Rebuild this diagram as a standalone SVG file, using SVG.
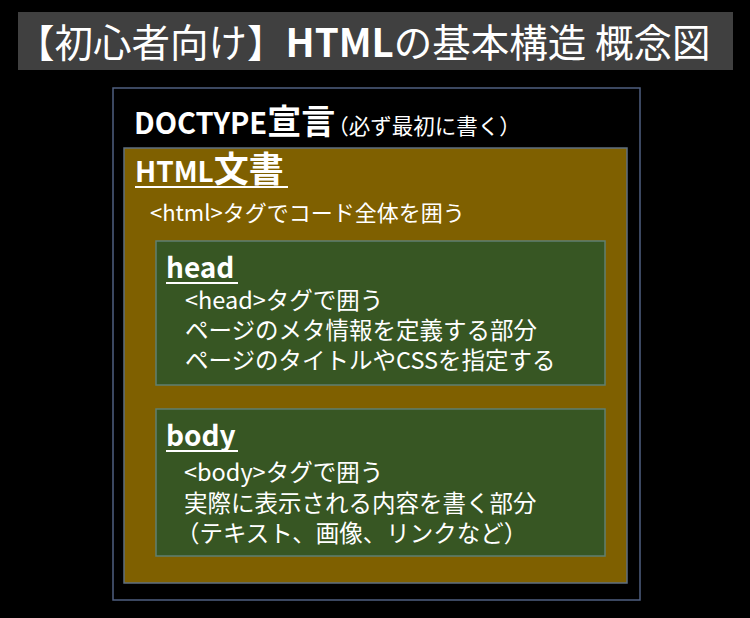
<svg xmlns="http://www.w3.org/2000/svg" width="750" height="618" viewBox="0 0 750 618">
<style>
text{font-family:"Noto Sans CJK JP","Liberation Sans",sans-serif;fill:#ffffff}
.t{font-size:38.5px}
.h{font-size:28px;font-weight:bold}
.d{font-size:23.5px}
.ul{stroke:#ffffff;stroke-width:2.2}
.grn{fill:#375623;stroke:#5f7f72;stroke-width:1.5}
</style>
<rect x="0" y="0" width="750" height="618" fill="#000000"/>
<g id="title">
<rect x="18" y="12" width="715" height="58" fill="#404040"/>
<text class="t" x="16" y="57">【初心者向け】<tspan font-weight="bold">HTML</tspan>の基本構造 概念図</text>
</g>
<g id="doctype">
<rect x="113" y="88" width="527" height="512" fill="#000000" stroke="#4f5f80" stroke-width="1.5"/>
<text x="134" y="134" font-weight="bold" font-size="29px">DOCTYPE<tspan font-size="34px">宣言</tspan><tspan font-weight="normal" font-size="21.5px" dx="-8">（必ず最初に書く）</tspan></text>
</g>
<g id="html">
<rect x="124" y="148" width="503" height="435" fill="#7f6000" stroke="#5f6f80" stroke-width="1.5"/>
<text class="h" x="135" y="182">HTML<tspan font-size="35px">文書</tspan></text>
<line class="ul" x1="135" y1="187" x2="288" y2="187"/>
<text x="150" y="221" font-size="22px">&lt;html&gt;タグでコード全体を囲う</text>
</g>
<g id="head">
<rect class="grn" x="156" y="241" width="449" height="144"/>
<text class="h" x="166" y="278">head</text>
<line class="ul" x1="166" y1="283" x2="238" y2="283"/>
<text class="d" x="185" y="309">&lt;head&gt;タグで囲う</text>
<text class="d" x="185" y="339">ページのメタ情報を定義する部分</text>
<text class="d" x="185" y="369">ページのタイトルやCSSを指定する</text>
</g>
<g id="body">
<rect class="grn" x="156" y="409" width="449" height="147"/>
<text class="h" x="166" y="446">body</text>
<line class="ul" x1="166" y1="451" x2="238" y2="451"/>
<text class="d" x="184" y="481">&lt;body&gt;タグで囲う</text>
<text class="d" x="184" y="512">実際に表示される内容を書く部分</text>
<text class="d" x="176" y="542">（テキスト、画像、リンクなど）</text>
</g>
<g id="connectors"></g>
</svg>
